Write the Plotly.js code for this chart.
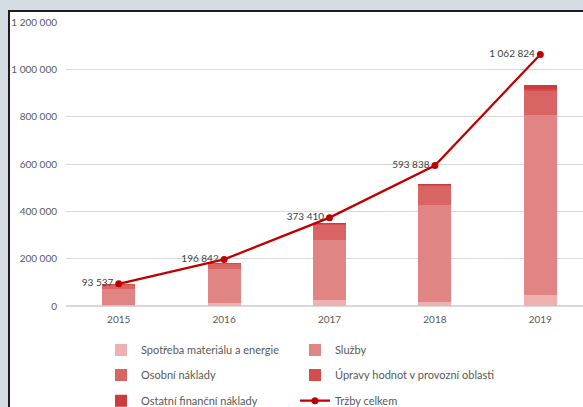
<!DOCTYPE html>
<html>
<head>
<meta charset="utf-8">
<script src="https://cdn.plot.ly/plotly-3.0.1.min.js"></script>
<style>
html, body { margin: 0; padding: 0; width: 583px; height: 407px; overflow: hidden; background: #d6dce4; }
#frame { position: absolute; left: 8px; top: 10px; width: 620px; height: 440px; background: #ffffff; border-left: 2px solid #1e1e1e; border-top: 2px solid #1e1e1e; }
#chart { position: absolute; left: 0; top: 0; width: 600px; height: 430px; }
</style>
</head>
<body>
<div id="frame"><div id="chart"></div></div>
<script>
const years = ['2015', '2016', '2017', '2018', '2019'];
const spotreba = [4000, 12700, 24000, 19000, 45000];
const sluzby = [69000, 142000, 253000, 406000, 761000];
const osobni = [17000, 24000, 64000, 82000, 102000];
const upravy = [1500, 2000, 5000, 4000, 7000];
const ostatni = [500, 1300, 3000, 3000, 18000];
const trzby = [93537, 196842, 373410, 593838, 1062824];

const names = ['Spotřeba materiálu a energie', 'Služby', 'Osobní náklady', 'Úpravy hodnot v provozní oblasti', 'Ostatní finanční náklady', 'Tržby celkem'];
const colors = ['#edb1b1', '#e08484', '#d96464', '#d44c4c', '#cc3c3c', '#c00000'];
const series = [spotreba, sluzby, osobni, upravy, ostatni];
const legendIds = ['legend', 'legend2', 'legend3', 'legend4', 'legend5', 'legend6'];

const FONT = 'Lato, "Open Sans", sans-serif';

const traces = series.map((vals, i) => ({
  type: 'bar',
  x: years,
  y: vals,
  name: names[i],
  marker: { color: colors[i], line: { width: 0 } },
  legend: legendIds[i],
  hoverinfo: 'skip'
}));

traces.push({
  type: 'scatter',
  mode: 'lines+markers+text',
  x: years,
  y: trzby,
  name: names[5],
  line: { color: colors[5], width: 2.25 },
  marker: { color: colors[5], size: 7 },
  texttemplate: '%{y:,d}',
  textposition: 'middle left',
  textfont: { family: FONT, size: 10, color: '#404040' },
  legend: legendIds[5],
  hoverinfo: 'skip'
});

const legendBase = {
  orientation: 'h',
  xref: 'container',
  yref: 'container',
  xanchor: 'left',
  yanchor: 'middle',
  font: { family: FONT, size: 11, color: '#595959' },
  bgcolor: 'rgba(0,0,0,0)',
  borderwidth: 0
};

const colX = [91, 285];
const rowY = [338, 363, 388.7];

const layout = {
  width: 600,
  height: 430,
  margin: { l: 56.4, r: 17.3, t: 10.3, b: 136.3 },
  paper_bgcolor: '#ffffff',
  plot_bgcolor: '#ffffff',
  separators: ', ',
  barmode: 'stack',
  bargap: 0.686,
  showlegend: true,
  font: { family: FONT, color: '#595959' },
  xaxis: {
    type: 'category',
    tickfont: { family: FONT, size: 10, color: '#595959' },
    showgrid: false,
    showline: false,
    ticks: '',
    ticklabelstandoff: 6,
    fixedrange: true
  },
  yaxis: {
    range: [0, 1200000],
    dtick: 200000,
    tick0: 0,
    tickformat: ',d',
    tickfont: { family: FONT, size: 10, color: '#595959' },
    gridcolor: '#d9d9d9',
    gridwidth: 1,
    zeroline: true,
    zerolinecolor: '#d9d9d9',
    zerolinewidth: 1.5,
    showline: false,
    ticks: '',
    ticklabelstandoff: 8,
    fixedrange: true
  }
};

legendIds.forEach((id, i) => {
  layout[id] = Object.assign({}, legendBase, {
    x: colX[i % 2] / 600,
    y: 1 - rowY[Math.floor(i / 2)] / 430
  });
});

Plotly.newPlot('chart', traces, layout, { displayModeBar: false, staticPlot: true });
</script>
</body>
</html>
